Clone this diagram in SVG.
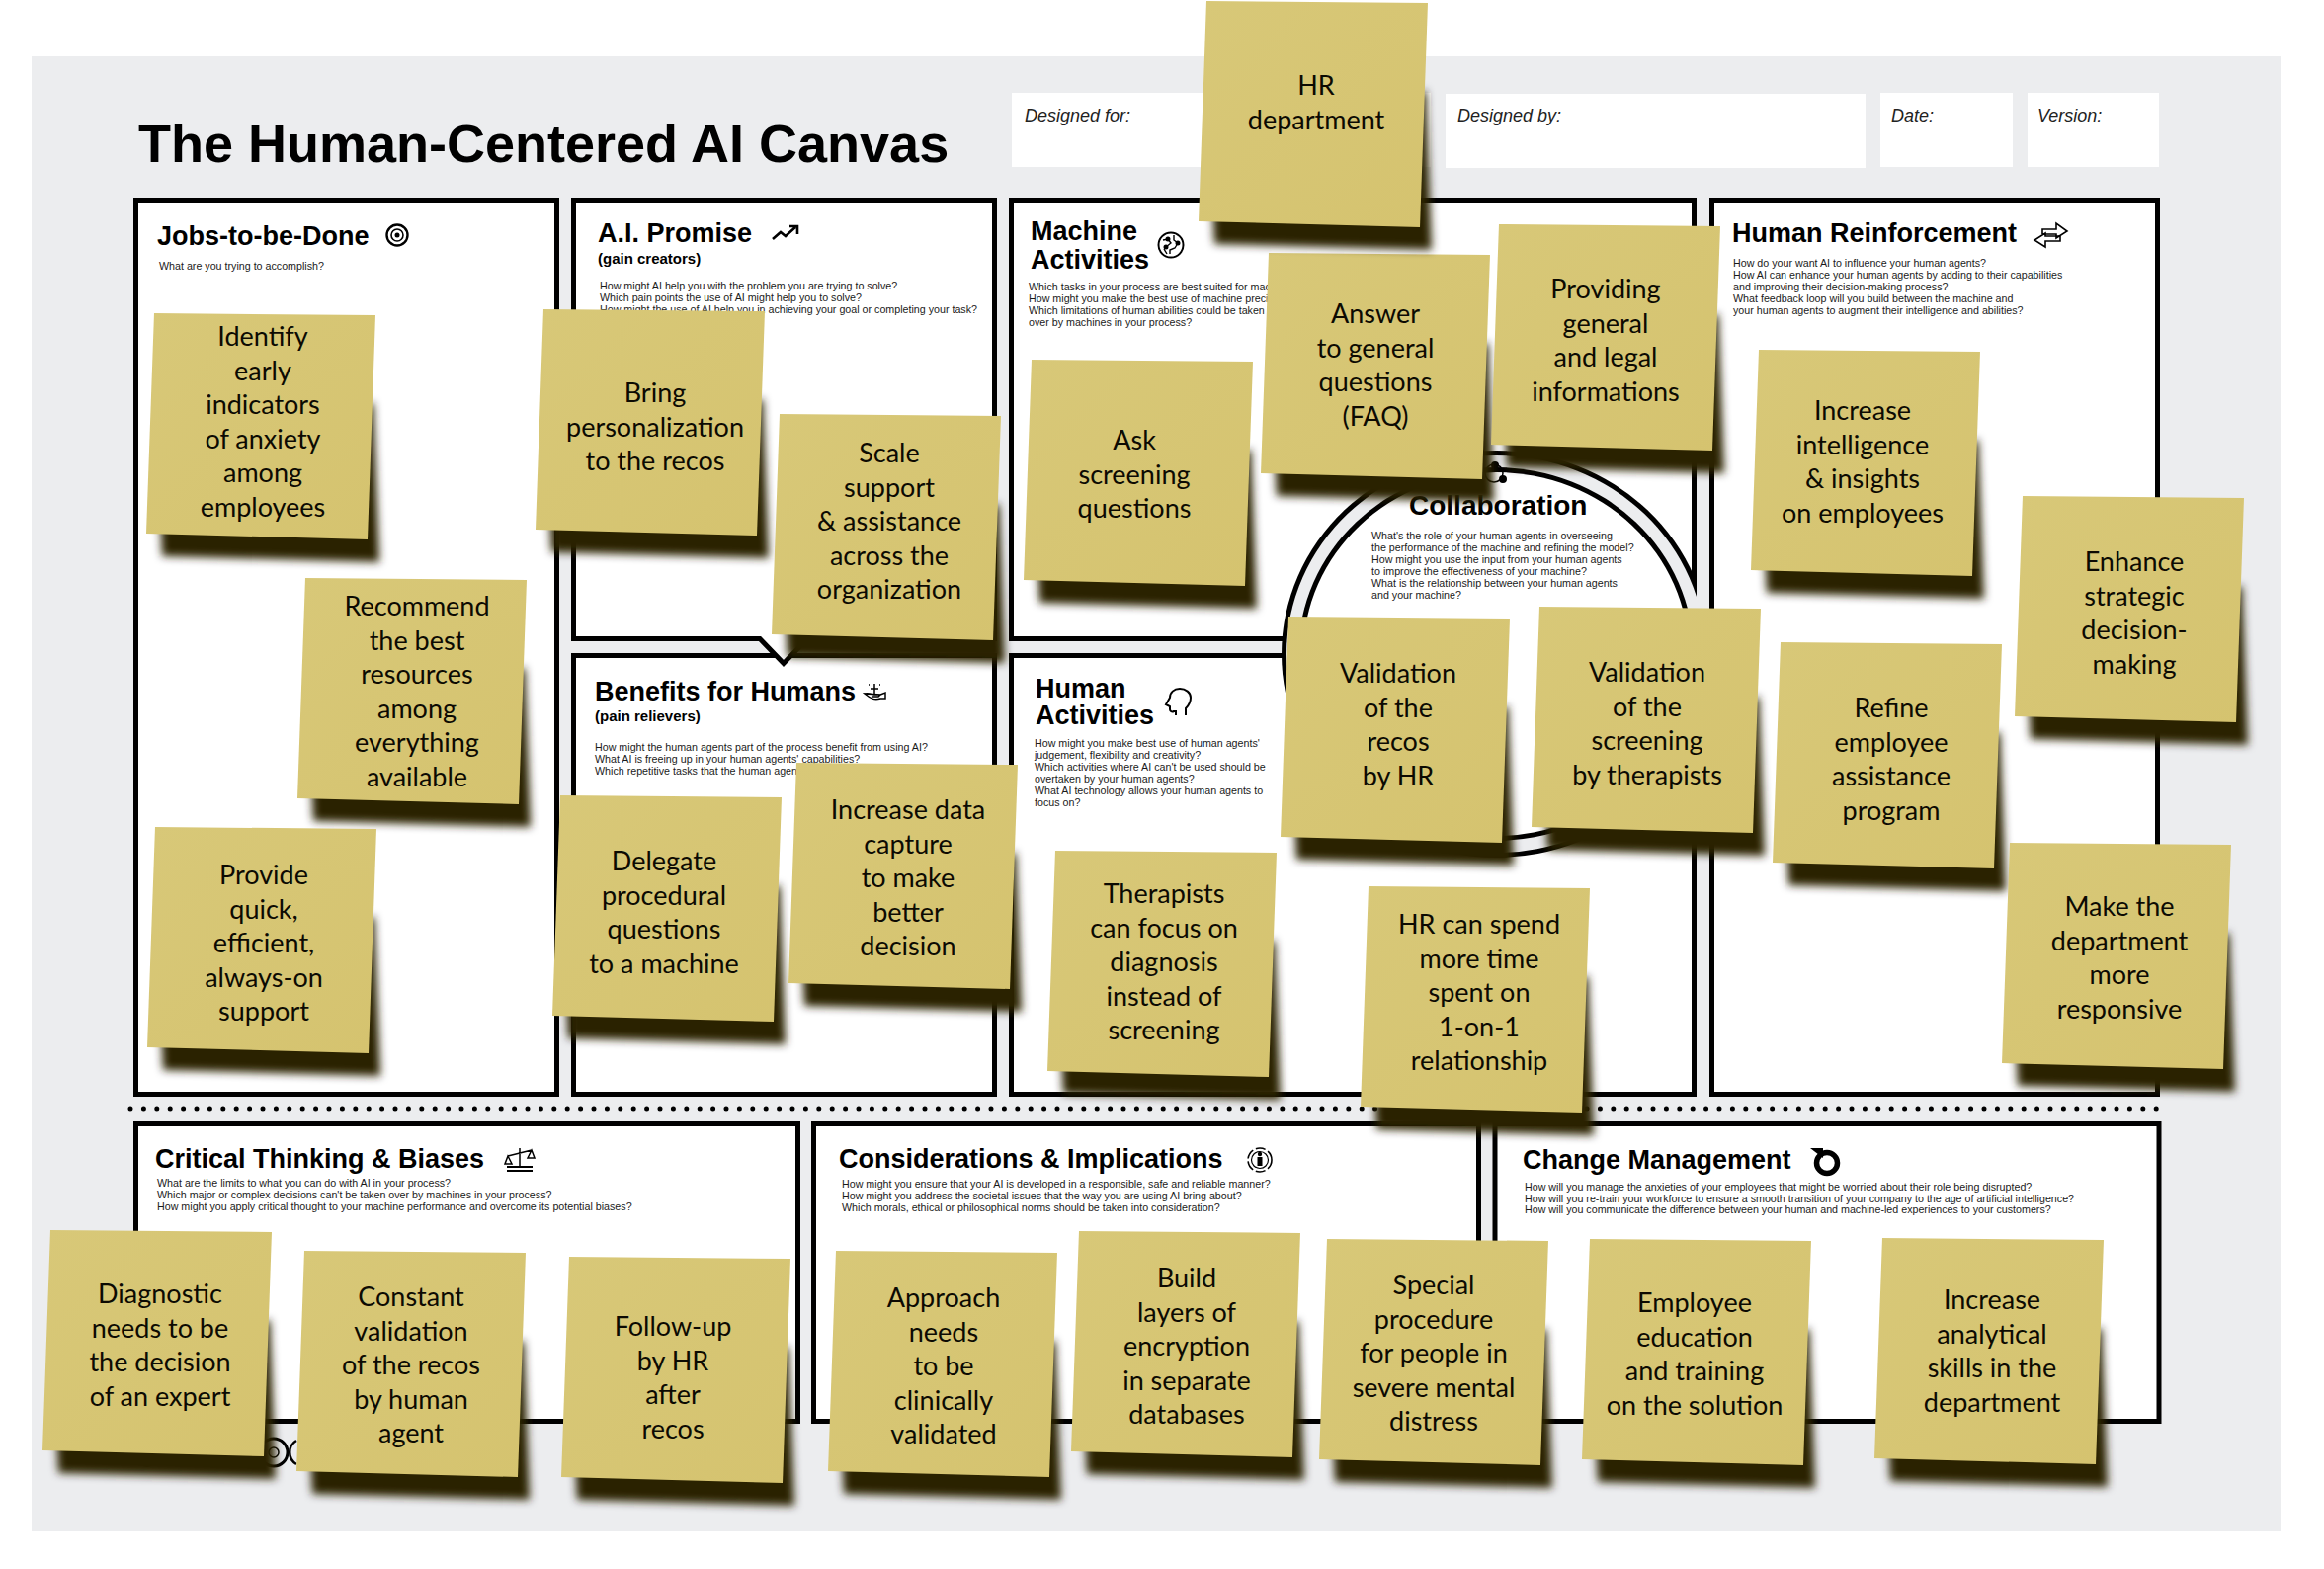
<svg xmlns="http://www.w3.org/2000/svg" width="2352" height="1588" viewBox="0 0 2352 1588">
<style>
text{font-family:"Liberation Sans",Arial,sans-serif;fill:#000}
.p{fill:#fff;stroke:#000;stroke-width:5}
.t{font-size:27px;font-weight:700}
.sub{font-size:15px;font-weight:700}
.d{font-size:10.7px;fill:#1a1a1a}
.h{font-size:18px;font-style:italic;fill:#222}
.hb{fill:#fff}
.i{fill:none;stroke:#000;stroke-width:2}
.nt{font-family:Lato,"Noto Sans",sans-serif;font-size:27px;fill:#0c0a02;text-anchor:middle}
.nb{fill:url(#paper)}
.ns{fill:#2b2406;filter:url(#blur)}
</style>
<defs>
<linearGradient id="paper" x1="0" y1="0" x2="1" y2="1"><stop offset="0" stop-color="#d8c878"/><stop offset="1" stop-color="#d5c36f"/></linearGradient>
<filter id="blur" x="-20%" y="-20%" width="140%" height="140%"><feGaussianBlur stdDeviation="4.5"/></filter>
<polygon id="n" class="nb" points="0,0 224,2 216,229 -8,223"/>
<polygon id="s" class="ns" points="6,205 222,90 228,252 8,246"/>
<clipPath id="ringclip"><rect x="1280" y="440" width="437" height="450"/></clipPath>
</defs>
<rect width="2352" height="1588" fill="#fff"/>
<rect x="32" y="57" width="2276" height="1493" fill="#ecedef"/>

<g id="header">
<text x="140" y="164" font-size="54" font-weight="700">The Human-Centered AI Canvas</text>
<rect class="hb" x="1024" y="94" width="424" height="75"/><text class="h" x="1037" y="123">Designed for:</text>
<rect class="hb" x="1463" y="95" width="425" height="75"/><text class="h" x="1475" y="123">Designed by:</text>
<rect class="hb" x="1903" y="94" width="134" height="75"/><text class="h" x="1914" y="123">Date:</text>
<rect class="hb" x="2052" y="94" width="133" height="75"/><text class="h" x="2062" y="123">Version:</text>
</g>

<g id="bottom-logos" fill="none" stroke="#000">
<circle cx="149" cy="1476" r="9" fill="#2b2406" stroke="none"/>
<circle cx="191" cy="1476" r="9" fill="#2b2406" stroke="none"/>
<circle cx="277" cy="1470" r="14" stroke-width="3"/><circle cx="277" cy="1470" r="5" stroke-width="1.5"/>
<path d="M300,1458 a14,14 0 0 0 0,24" stroke-width="2.5"/>
</g>

<g id="jobs">
<rect class="p" x="137.500" y="202.500" width="426" height="905"/>
<text class="t" x="159" y="248">Jobs-to-be-Done</text>
<text class="d" x="161" y="273">What are you trying to accomplish?</text>
<g class="i"><circle cx="402" cy="238" r="10.500" stroke-width="2.400"/><circle cx="402" cy="238" r="6" stroke-width="1.600"/><circle cx="402" cy="238" r="2.500" fill="#000" stroke="none"/></g>
</g>

<g id="benefits">
<rect class="p" x="580.500" y="663.500" width="426" height="444"/>
<text class="t" x="602" y="709">Benefits for Humans</text>
<text class="sub" x="602" y="730">(pain relievers)</text>
<text class="d" x="602" y="760">How might the human agents part of the process benefit from using AI?</text>
<text class="d" x="602" y="772">What AI is freeing up in your human agents' capabilities?</text>
<text class="d" x="602" y="784">Which repetitive tasks that the human agent</text>
<g class="i" stroke-width="1.500"><path d="M875,702 c5,-1 8,1 11,1 h5 l-2,2 h-6 m8,-2 l5,-2 v6 h-5 c-6,2 -10,0 -16,-5 z" stroke-width="1.500"/><path d="M885,692 v10 M881,697 h8 M879,693 h1 M890,693 h1" stroke-width="1.500"/></g>
</g>

<g id="ai-promise">
<path class="p" d="M580.500,202.500 H1006.500 V646.500 H817 L793,671.500 L769,646.500 H580.500 Z"/>
<text class="t" x="605" y="245">A.I. Promise</text>
<text class="sub" x="605" y="267">(gain creators)</text>
<text class="d" x="607" y="293">How might AI help you with the problem you are trying to solve?</text>
<text class="d" x="607" y="305">Which pain points the use of AI might help you to solve?</text>
<text class="d" x="607" y="317">How might the use of AI help you in achieving your goal or completing your task?</text>
<g class="i" stroke-width="2.600"><path d="M782,242 L790,235 L795,239 L805,230 M799,229 H807 V237" stroke-width="2.600"/></g>
</g>

<g id="machine-activities">
<rect class="p" x="1023.500" y="202.500" width="691" height="444"/>
<text class="t" x="1043" y="243">Machine</text><text class="t" x="1043" y="272">Activities</text>
<text class="d" x="1041" y="294">Which tasks in your process are best suited for mach</text>
<text class="d" x="1041" y="306">How might you make the best use of machine precis</text>
<text class="d" x="1041" y="318">Which limitations of human abilities could be taken</text>
<text class="d" x="1041" y="330">over by machines in your process?</text>
<g class="i"><circle cx="1185" cy="248" r="12.500" stroke-width="2"/><path d="M1177,243 l5,-1 l3,4 l-5,4 M1188,238 v5 l4,3 l-3,5 l-5,2 v4 M1178,252 l3,5" stroke-width="1.400"/><circle cx="1182" cy="242" r="1.500" fill="#000"/><circle cx="1192" cy="246" r="1.500" fill="#000"/><circle cx="1180" cy="250" r="1.500" fill="#000"/></g>
</g>

<g id="human-activities">
<rect class="p" x="1023.500" y="663.500" width="691" height="444"/>
<text class="t" x="1048" y="706">Human</text><text class="t" x="1048" y="733">Activities</text>
<text class="d" x="1047" y="756">How might you make best use of human agents'</text>
<text class="d" x="1047" y="768">judgement, flexibility and creativity?</text>
<text class="d" x="1047" y="780">Which activities where AI can't be used should be</text>
<text class="d" x="1047" y="792">overtaken by your human agents?</text>
<text class="d" x="1047" y="804">What AI technology allows your human agents to</text>
<text class="d" x="1047" y="816">focus on?</text>
<path class="i" d="M1200,724 v-7 c4,-4 5,-8 5,-11 c0,-5 -5,-9 -11,-9 c-6,0 -10,4 -10,9 l-4,7 l4,2 v3 c0,2 2,3 4,2 l2,0 v4" stroke-width="2"/>
</g>

<g id="human-reinforcement">
<rect class="p" x="1732.500" y="202.500" width="451" height="905"/>
<text class="t" x="1753" y="245">Human Reinforcement</text>
<text class="d" x="1754" y="270">How do your want AI to influence your human agents?</text>
<text class="d" x="1754" y="282">How AI can enhance your human agents by adding to their capabilities</text>
<text class="d" x="1754" y="294">and improving their decision-making process?</text>
<text class="d" x="1754" y="306">What feedback loop will you build between the machine and</text>
<text class="d" x="1754" y="318">your human agents to augment their intelligence and abilities?</text>
<g class="i"><path d="M2067,237 V232 H2081 V226 L2092,234 L2081,241 V237 H2067" stroke-width="1.600"/><path d="M2085,239 V244 H2070 V250 L2059,243 L2070,236 V239 H2085" stroke-width="1.600"/></g>
</g>

<g id="collaboration">
<ellipse cx="1514" cy="662" rx="217" ry="206" fill="#000" clip-path="url(#ringclip)"/>
<ellipse cx="1514" cy="662" rx="212" ry="201" fill="#ecedef"/>
<ellipse cx="1514" cy="662" rx="200" ry="189" fill="#000"/>
<ellipse cx="1514" cy="662" rx="195" ry="184" fill="#fff"/>
<text x="1426" y="521" font-size="28" font-weight="700">Collaboration</text>
<text class="d" x="1388" y="546">What's the role of your human agents in overseeing</text>
<text class="d" x="1388" y="558">the performance of the machine and refining the model?</text>
<text class="d" x="1388" y="570">How might you use the input from your human agents</text>
<text class="d" x="1388" y="582">to improve the effectiveness of your machine?</text>
<text class="d" x="1388" y="594">What is the relationship between your human agents</text>
<text class="d" x="1388" y="606">and your machine?</text>
<g class="i"><circle cx="1512" cy="479" r="9" stroke-width="1.500"/><circle cx="1513" cy="471" r="3" fill="#000"/><circle cx="1521" cy="485" r="3" fill="#000"/></g>
</g>

<path id="divider" d="M132,1122 H2187" fill="none" stroke="#000" stroke-width="5" stroke-linecap="round" stroke-dasharray="0 13.400"/>

<g id="critical-thinking">
<rect class="p" x="137.500" y="1137.500" width="670" height="301"/>
<text class="t" x="157" y="1182">Critical Thinking &amp; Biases</text>
<text class="d" x="159" y="1201">What are the limits to what you can do with AI in your process?</text>
<text class="d" x="159" y="1213">Which major or complex decisions can't be taken over by machines in your process?</text>
<text class="d" x="159" y="1225">How might you apply critical thought to your machine performance and overcome its potential biases?</text>
<g class="i"><path d="M526,1162 V1180 M514,1170 L538,1164 M514,1170 L511,1178 H518 Z M538,1164 L534,1172 H541 Z" stroke-width="1.500"/><path d="M513,1181 H539 M513,1185 H539" stroke-width="2.200"/></g>
</g>

<g id="considerations">
<rect class="p" x="823.500" y="1137.500" width="673" height="301"/>
<text class="t" x="849" y="1182">Considerations &amp; Implications</text>
<text class="d" x="852" y="1202">How might you ensure that your AI is developed in a responsible, safe and reliable manner?</text>
<text class="d" x="852" y="1214">How might you address the societal issues that the way you are using AI bring about?</text>
<text class="d" x="852" y="1226">Which morals, ethical or philosophical norms should be taken into consideration?</text>
<g class="i"><circle cx="1275" cy="1174" r="12" stroke-width="1.600" stroke-dasharray="10 3"/><circle cx="1275" cy="1174" r="8.500" stroke-width="1.200"/><circle cx="1275" cy="1168" r="2.200" fill="#000" stroke="none"/><rect x="1272.500" y="1171" width="5" height="9" fill="#000" stroke="none"/></g>
</g>

<g id="change-management">
<rect class="p" x="1513" y="1137.500" width="672" height="301"/>
<text class="t" x="1541" y="1183">Change Management</text>
<text class="d" x="1543" y="1205">How will you manage the anxieties of your employees that might be worried about their role being disrupted?</text>
<text class="d" x="1543" y="1217">How will you re-train your workforce to ensure a smooth transition of your company to the age of artificial intelligence?</text>
<text class="d" x="1543" y="1228">How will you communicate the difference between your human and machine-led experiences to your customers?</text>
<g><circle cx="1849" cy="1177" r="10.500" fill="none" stroke="#000" stroke-width="5.500"/><path d="M1832,1162 H1845 V1172 Z" fill="#000"/></g>
</g>

<g id="notes">
<g id="note-identify" transform="translate(156 317)"><use href="#s"/><use href="#n"/><text class="nt" y="33"><tspan x="110">Identify</tspan><tspan x="110" dy="34.500">early</tspan><tspan x="110" dy="34.500">indicators</tspan><tspan x="110" dy="34.500">of anxiety</tspan><tspan x="110" dy="34.500">among</tspan><tspan x="110" dy="34.500">employees</tspan></text></g>
<g id="note-recommend" transform="translate(309 585)"><use href="#s"/><use href="#n"/><text class="nt" y="38"><tspan x="113">Recommend</tspan><tspan x="113" dy="34.500">the best</tspan><tspan x="113" dy="34.500">resources</tspan><tspan x="113" dy="34.500">among</tspan><tspan x="113" dy="34.500">everything</tspan><tspan x="113" dy="34.500">available</tspan></text></g>
<g id="note-provide" transform="translate(157 837)"><use href="#s"/><use href="#n"/><text class="nt" y="58"><tspan x="110">Provide</tspan><tspan x="110" dy="34.500">quick,</tspan><tspan x="110" dy="34.500">efficient,</tspan><tspan x="110" dy="34.500">always-on</tspan><tspan x="110" dy="34.500">support</tspan></text></g>
<g id="note-bring" transform="translate(550 313)"><use href="#s"/><use href="#n"/><text class="nt" y="94"><tspan x="113">Bring</tspan><tspan x="113" dy="34.500">personalization</tspan><tspan x="113" dy="34.500">to the recos</tspan></text></g>
<g id="note-scale" transform="translate(789 419)"><use href="#s"/><use href="#n"/><text class="nt" y="49"><tspan x="111">Scale</tspan><tspan x="111" dy="34.500">support</tspan><tspan x="111" dy="34.500">&amp; assistance</tspan><tspan x="111" dy="34.500">across the</tspan><tspan x="111" dy="34.500">organization</tspan></text></g>
<g id="note-ask" transform="translate(1044 364)"><use href="#s"/><use href="#n"/><text class="nt" y="91"><tspan x="104">Ask</tspan><tspan x="104" dy="34.500">screening</tspan><tspan x="104" dy="34.500">questions</tspan></text></g>
<g id="note-answer" transform="translate(1284 256)"><use href="#s"/><use href="#n"/><text class="nt" y="71"><tspan x="108">Answer</tspan><tspan x="108" dy="34.500">to general</tspan><tspan x="108" dy="34.500">questions</tspan><tspan x="108" dy="34.500">(FAQ)</tspan></text></g>
<g id="note-providing" transform="translate(1517 227)"><use href="#s"/><use href="#n"/><text class="nt" y="75"><tspan x="108">Providing</tspan><tspan x="108" dy="34.500">general</tspan><tspan x="108" dy="34.500">and legal</tspan><tspan x="108" dy="34.500">informations</tspan></text></g>
<g id="note-intelligence" transform="translate(1780 354)"><use href="#s"/><use href="#n"/><text class="nt" y="71"><tspan x="105">Increase</tspan><tspan x="105" dy="34.500">intelligence</tspan><tspan x="105" dy="34.500">&amp; insights</tspan><tspan x="105" dy="34.500">on employees</tspan></text></g>
<g id="note-enhance" transform="translate(2047 502)"><use href="#s"/><use href="#n"/><text class="nt" y="76"><tspan x="113">Enhance</tspan><tspan x="113" dy="34.500">strategic</tspan><tspan x="113" dy="34.500">decision-</tspan><tspan x="113" dy="34.500">making</tspan></text></g>
<g id="note-validation-recos" transform="translate(1304 624)"><use href="#s"/><use href="#n"/><text class="nt" y="67"><tspan x="111">Validation</tspan><tspan x="111" dy="34.500">of the</tspan><tspan x="111" dy="34.500">recos</tspan><tspan x="111" dy="34.500">by HR</tspan></text></g>
<g id="note-validation-screening" transform="translate(1558 614)"><use href="#s"/><use href="#n"/><text class="nt" y="76"><tspan x="109">Validation</tspan><tspan x="109" dy="34.500">of the</tspan><tspan x="109" dy="34.500">screening</tspan><tspan x="109" dy="34.500">by therapists</tspan></text></g>
<g id="note-refine" transform="translate(1802 650)"><use href="#s"/><use href="#n"/><text class="nt" y="76"><tspan x="112">Refine</tspan><tspan x="112" dy="34.500">employee</tspan><tspan x="112" dy="34.500">assistance</tspan><tspan x="112" dy="34.500">program</tspan></text></g>
<g id="note-responsive" transform="translate(2034 853)"><use href="#s"/><use href="#n"/><text class="nt" y="74"><tspan x="111">Make the</tspan><tspan x="111" dy="34.500">department</tspan><tspan x="111" dy="34.500">more</tspan><tspan x="111" dy="34.500">responsive</tspan></text></g>
<g id="note-delegate" transform="translate(567 805)"><use href="#s"/><use href="#n"/><text class="nt" y="76"><tspan x="105">Delegate</tspan><tspan x="105" dy="34.500">procedural</tspan><tspan x="105" dy="34.500">questions</tspan><tspan x="105" dy="34.500">to a machine</tspan></text></g>
<g id="note-capture" transform="translate(806 772)"><use href="#s"/><use href="#n"/><text class="nt" y="57"><tspan x="113">Increase data</tspan><tspan x="113" dy="34.500">capture</tspan><tspan x="113" dy="34.500">to make</tspan><tspan x="113" dy="34.500">better</tspan><tspan x="113" dy="34.500">decision</tspan></text></g>
<g id="note-therapists" transform="translate(1068 861)"><use href="#s"/><use href="#n"/><text class="nt" y="53"><tspan x="110">Therapists</tspan><tspan x="110" dy="34.500">can focus on</tspan><tspan x="110" dy="34.500">diagnosis</tspan><tspan x="110" dy="34.500">instead of</tspan><tspan x="110" dy="34.500">screening</tspan></text></g>
<g id="note-hr-time" transform="translate(1385 897)"><use href="#s"/><use href="#n"/><text class="nt" y="48"><tspan x="112">HR can spend</tspan><tspan x="112" dy="34.500">more time</tspan><tspan x="112" dy="34.500">spent on</tspan><tspan x="112" dy="34.500">1-on-1</tspan><tspan x="112" dy="34.500">relationship</tspan></text></g>
<g id="note-diagnostic" transform="translate(51 1245)"><use href="#s"/><use href="#n"/><text class="nt" y="74"><tspan x="111">Diagnostic</tspan><tspan x="111" dy="34.500">needs to be</tspan><tspan x="111" dy="34.500">the decision</tspan><tspan x="111" dy="34.500">of an expert</tspan></text></g>
<g id="note-constant" transform="translate(308 1266)"><use href="#s"/><use href="#n"/><text class="nt" y="56"><tspan x="108">Constant</tspan><tspan x="108" dy="34.500">validation</tspan><tspan x="108" dy="34.500">of the recos</tspan><tspan x="108" dy="34.500">by human</tspan><tspan x="108" dy="34.500">agent</tspan></text></g>
<g id="note-follow" transform="translate(576 1272)"><use href="#s"/><use href="#n"/><text class="nt" y="80"><tspan x="105">Follow-up</tspan><tspan x="105" dy="34.500">by HR</tspan><tspan x="105" dy="34.500">after</tspan><tspan x="105" dy="34.500">recos</tspan></text></g>
<g id="note-approach" transform="translate(846 1266)"><use href="#s"/><use href="#n"/><text class="nt" y="57"><tspan x="109">Approach</tspan><tspan x="109" dy="34.500">needs</tspan><tspan x="109" dy="34.500">to be</tspan><tspan x="109" dy="34.500">clinically</tspan><tspan x="109" dy="34.500">validated</tspan></text></g>
<g id="note-build" transform="translate(1092 1246)"><use href="#s"/><use href="#n"/><text class="nt" y="57"><tspan x="109">Build</tspan><tspan x="109" dy="34.500">layers of</tspan><tspan x="109" dy="34.500">encryption</tspan><tspan x="109" dy="34.500">in separate</tspan><tspan x="109" dy="34.500">databases</tspan></text></g>
<g id="note-special" transform="translate(1343 1254)"><use href="#s"/><use href="#n"/><text class="nt" y="56"><tspan x="108">Special</tspan><tspan x="108" dy="34.500">procedure</tspan><tspan x="108" dy="34.500">for people in</tspan><tspan x="108" dy="34.500">severe mental</tspan><tspan x="108" dy="34.500">distress</tspan></text></g>
<g id="note-employee" transform="translate(1609 1254)"><use href="#s"/><use href="#n"/><text class="nt" y="74"><tspan x="106">Employee</tspan><tspan x="106" dy="34.500">education</tspan><tspan x="106" dy="34.500">and training</tspan><tspan x="106" dy="34.500">on the solution</tspan></text></g>
<g id="note-analytical" transform="translate(1905 1253)"><use href="#s"/><use href="#n"/><text class="nt" y="72"><tspan x="111">Increase</tspan><tspan x="111" dy="34.500">analytical</tspan><tspan x="111" dy="34.500">skills in the</tspan><tspan x="111" dy="34.500">department</tspan></text></g>
<g id="note-hr-department" transform="translate(1221 1)"><use href="#s"/><use href="#n"/><text class="nt" y="95"><tspan x="111">HR</tspan><tspan x="111" dy="34.500">department</tspan></text></g>
</g>
</svg>
